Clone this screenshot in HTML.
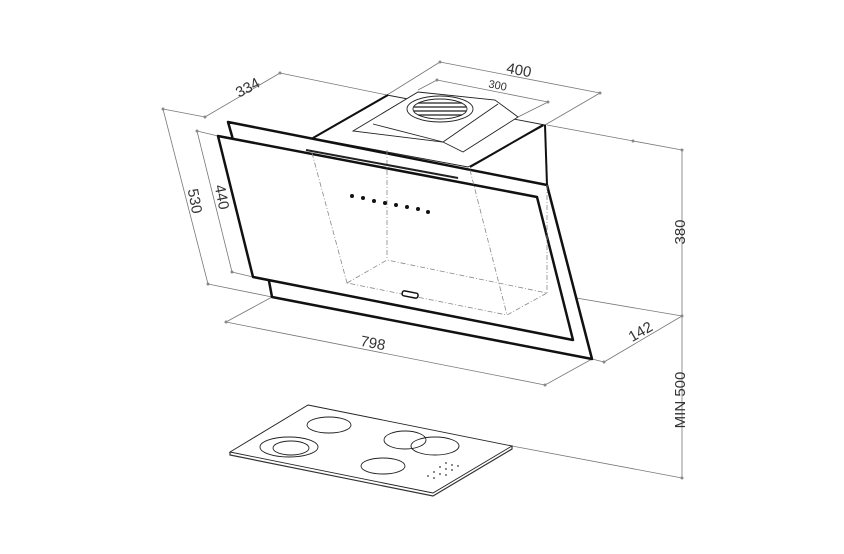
<!DOCTYPE html>
<html><head><style>html,body{margin:0;padding:0;background:#fff}svg{display:block}</style></head>
<body>
<svg width="844" height="554" viewBox="0 0 844 554" xmlns="http://www.w3.org/2000/svg" font-family="Liberation Sans, sans-serif">
<g stroke="#777" stroke-width="0.8" fill="none">
<line x1="205" y1="117" x2="280" y2="73"/>
<line x1="163" y1="109" x2="205" y2="117"/>
<line x1="280" y1="73" x2="387" y2="95"/>
<line x1="440" y1="62" x2="600" y2="93"/>
<line x1="440" y1="62" x2="387" y2="95"/>
<line x1="600" y1="93" x2="545" y2="125"/>
<line x1="437" y1="80" x2="548" y2="102"/>
<line x1="437" y1="80" x2="418" y2="90"/>
<line x1="548" y1="102" x2="518" y2="117"/>
<line x1="163" y1="109" x2="208" y2="284"/>
<line x1="197" y1="131" x2="232" y2="272"/>
<line x1="197" y1="131" x2="218" y2="136"/>
<line x1="232" y1="272" x2="253" y2="277"/>
<line x1="208" y1="284" x2="272" y2="297"/>
<line x1="226" y1="322" x2="545" y2="385"/>
<line x1="226" y1="322" x2="272" y2="297"/>
<line x1="545" y1="385" x2="592" y2="359"/>
<line x1="592" y1="359" x2="604" y2="362"/>
<line x1="604" y1="362" x2="682" y2="316"/>
<line x1="547" y1="293" x2="682" y2="316"/>
<line x1="547" y1="125" x2="682" y2="150"/>
<line x1="682" y1="150" x2="682" y2="478"/>
<line x1="512" y1="446" x2="682" y2="478"/>
</g>
<g fill="#888">
<circle cx="163" cy="109" r="1.5"/><circle cx="208" cy="284" r="1.5"/><circle cx="197" cy="131" r="1.5"/><circle cx="232" cy="272" r="1.5"/>
<circle cx="205" cy="117" r="1.5"/><circle cx="280" cy="73" r="1.5"/><circle cx="440" cy="62" r="1.5"/><circle cx="600" cy="93" r="1.5"/>
<circle cx="437" cy="80" r="1.5"/><circle cx="548" cy="102" r="1.5"/><circle cx="226" cy="322" r="1.5"/><circle cx="545" cy="385" r="1.5"/>
<circle cx="604" cy="362" r="1.5"/><circle cx="682" cy="316" r="1.5"/><circle cx="682" cy="150" r="1.5"/><circle cx="682" cy="478" r="1.5"/><circle cx="633" cy="141" r="1.5"/>
</g>
<g fill="#333" font-size="15">
<text transform="translate(250,92) rotate(-28)" text-anchor="middle">334</text>
<text transform="translate(518,75) rotate(11)" text-anchor="middle">400</text>
<text transform="translate(497,89) rotate(11)" text-anchor="middle" font-size="11">300</text>
<text transform="translate(190,202) rotate(79)" text-anchor="middle">530</text>
<text transform="translate(217,198) rotate(79)" text-anchor="middle">440</text>
<text transform="translate(372,348) rotate(11)" text-anchor="middle">798</text>
<text transform="translate(643,336) rotate(-30)" text-anchor="middle">142</text>
<text transform="translate(685,232) rotate(-90)" text-anchor="middle">380</text>
<text transform="translate(685,400) rotate(-90)" text-anchor="middle">MIN 500</text>
</g>
<g stroke="#777" stroke-width="0.8" fill="none" stroke-dasharray="5,2,1,2">
<line x1="387" y1="95" x2="387" y2="260"/>
<line x1="312" y1="153" x2="347" y2="283"/>
<line x1="470" y1="170" x2="507" y2="315"/>
<line x1="547" y1="185" x2="547" y2="293"/>
<polyline points="347,283 387,260 547,293 507,315 347,283"/>
</g>
<g stroke="#222" stroke-width="0.9" fill="#fff">
<polygon points="312,138 387,95 545,125 468,167"/>
<polygon points="353,131 418,92 495,100 518,117 463,152 443,142"/>
<polyline points="443,142 373,124" fill="none"/>
<polyline points="443,142 498,104" fill="none"/>
<ellipse cx="440" cy="109" rx="33" ry="13"/>
<ellipse cx="440" cy="109" rx="27" ry="10"/>
<g stroke-width="1.2"><line x1="418" y1="103" x2="462" y2="103"/><line x1="414" y1="107" x2="466" y2="107"/><line x1="414" y1="111" x2="466" y2="111"/><line x1="418" y1="115" x2="462" y2="115"/></g>
</g>
<g stroke="#111" stroke-width="2" fill="none">
<line x1="313" y1="138" x2="388" y2="95"/>
<line x1="470" y1="167" x2="543" y2="125"/>
<line x1="545" y1="125" x2="547" y2="185"/>
</g>
<polygon points="228,122 547,185 592,359 272,297 269,281 232,136" fill="#fff" stroke="#111" stroke-width="2.5" stroke-linejoin="round"/>
<polygon points="218,136 537,197 573,340 253,277" fill="#fff" stroke="#111" stroke-width="2.5" stroke-linejoin="round"/>
<g stroke="#888" stroke-width="0.8" fill="none" stroke-dasharray="5,2,1,2">
<line x1="387" y1="150" x2="387" y2="260"/>
<line x1="312" y1="153" x2="347" y2="283"/>
<line x1="470" y1="170" x2="507" y2="315"/>
<line x1="547" y1="185" x2="547" y2="293"/>
<polyline points="347,283 387,260 547,293 507,315 347,283"/>
</g>
<line x1="306" y1="150" x2="458" y2="178" stroke="#222" stroke-width="2"/>
<g fill="#111">
<circle cx="352" cy="196" r="2"/><circle cx="363" cy="198" r="2"/><circle cx="374" cy="201" r="2"/><circle cx="385" cy="203" r="2"/><circle cx="396" cy="205" r="2"/><circle cx="407" cy="207" r="2"/><circle cx="418" cy="209" r="2"/><circle cx="428" cy="212" r="2"/>
</g>
<rect x="402" y="292" width="16" height="5" rx="2" fill="#fff" stroke="#111" stroke-width="1.5" transform="rotate(11 410 295)"/>
<polygon points="308,405 512,446 433,493 230,452" fill="#fff" stroke="#222" stroke-width="0.9"/>
<polyline points="230,452 230,455 433,496 512,449 512,446" fill="none" stroke="#333" stroke-width="1.2"/>
<g stroke="#222" stroke-width="0.9" fill="none">
<ellipse cx="329" cy="425" rx="22" ry="8"/>
<ellipse cx="289" cy="447" rx="29" ry="10"/>
<ellipse cx="291" cy="448" rx="18" ry="7"/>
<ellipse cx="405" cy="440" rx="21" ry="9"/>
<ellipse cx="435" cy="446" rx="24" ry="9"/>
<ellipse cx="383" cy="466" rx="22" ry="8"/>
</g>
<g fill="#666">
<circle cx="446" cy="463" r="1"/><circle cx="452" cy="465" r="1"/><circle cx="458" cy="466" r="1"/>
<circle cx="440" cy="467" r="1"/><circle cx="446" cy="469" r="1"/><circle cx="452" cy="470" r="1"/>
<circle cx="434" cy="472" r="1"/><circle cx="440" cy="474" r="1"/><circle cx="446" cy="475" r="1"/>
<circle cx="428" cy="476" r="1"/><circle cx="434" cy="478" r="1"/>
</g>
</svg>
</body></html>
